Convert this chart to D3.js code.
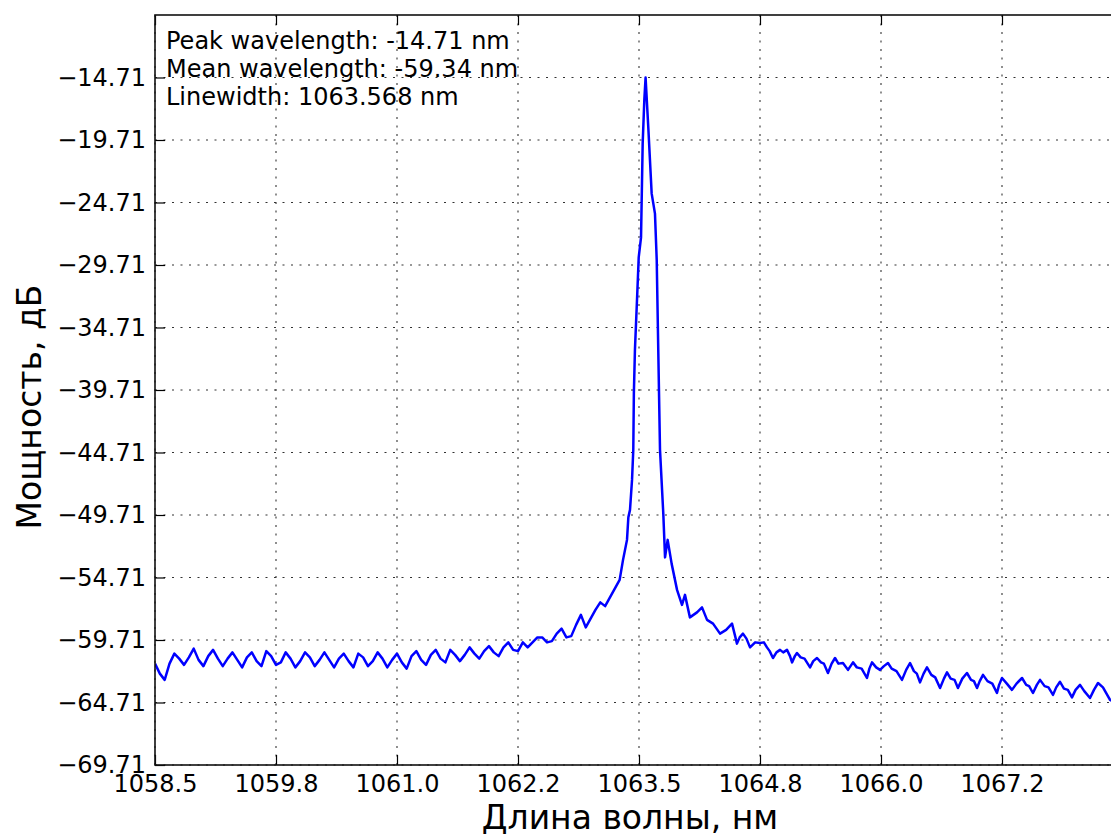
<!DOCTYPE html>
<html>
<head>
<meta charset="utf-8">
<script src="https://cdn.jsdelivr.net/npm/d3@7"></script>
<style>
  body { margin: 0; background: #fff; }
  svg { display: block; }
  text { font-family: "DejaVu Sans", sans-serif; }
</style>
</head>
<body>
<svg id="chart"></svg>
<script>
// spectrum (nm, dB)
const wavelength = [
  1058.50, 1058.55, 1058.60, 1058.65, 1058.70, 1058.75, 1058.80, 1058.85, 1058.90, 1058.95,
  1059.00, 1059.05, 1059.10, 1059.15, 1059.20, 1059.25, 1059.30, 1059.35, 1059.40, 1059.45,
  1059.50, 1059.55, 1059.60, 1059.65, 1059.70, 1059.75, 1059.80, 1059.85, 1059.90, 1059.95,
  1060.00, 1060.05, 1060.10, 1060.15, 1060.20, 1060.25, 1060.30, 1060.35, 1060.40, 1060.45,
  1060.50, 1060.55, 1060.60, 1060.65, 1060.70, 1060.75, 1060.80, 1060.85, 1060.90, 1060.95,
  1061.00, 1061.05, 1061.10, 1061.15, 1061.20, 1061.25, 1061.30, 1061.35, 1061.40, 1061.45,
  1061.50, 1061.55, 1061.60, 1061.65, 1061.70, 1061.75, 1061.80, 1061.85, 1061.90, 1061.95,
  1062.00, 1062.05, 1062.10, 1062.15, 1062.20, 1062.25, 1062.30, 1062.35, 1062.40, 1062.45,
  1062.50, 1062.55, 1062.60, 1062.65, 1062.70, 1062.75, 1062.80, 1062.85, 1062.90, 1062.95,
  1063.00, 1063.05, 1063.10, 1063.15, 1063.20, 1063.25,
  1063.300, 1063.335, 1063.376, 1063.390, 1063.407, 1063.428, 1063.441, 1063.447, 1063.458, 1063.482,
  1063.497, 1063.521, 1063.538, 1063.555, 1063.568, 1063.596, 1063.631, 1063.665, 1063.683, 1063.699,
  1063.717, 1063.751, 1063.769, 1063.796, 1063.837, 1063.893, 1063.944, 1063.975, 1064.026, 1064.099,
  1064.151, 1064.203, 1064.265,
  1064.337, 1064.40, 1064.461, 1064.49, 1064.512, 1064.54, 1064.574, 1064.61, 1064.647, 1064.70,
  1064.750, 1064.79, 1064.822, 1064.85, 1064.884, 1064.92, 1064.957, 1064.99, 1065.029, 1065.06,
  1065.081, 1065.11, 1065.132, 1065.17, 1065.21, 1065.267, 1065.30, 1065.339, 1065.38, 1065.41,
  1065.452, 1065.49, 1065.525, 1065.56, 1065.607, 1065.659, 1065.711, 1065.75, 1065.80, 1065.855,
  1065.88, 1065.907, 1065.95, 1065.990, 1066.03, 1066.072, 1066.11, 1066.16, 1066.217, 1066.26,
  1066.300, 1066.34, 1066.37, 1066.403, 1066.44, 1066.475, 1066.52, 1066.56, 1066.610, 1066.65,
  1066.682, 1066.72, 1066.76, 1066.795, 1066.84, 1066.888, 1066.93, 1066.96, 1066.992, 1067.02,
  1067.054, 1067.10, 1067.15, 1067.198, 1067.22, 1067.250, 1067.30, 1067.353, 1067.40, 1067.457,
  1067.50, 1067.53, 1067.570, 1067.61, 1067.643, 1067.69, 1067.73, 1067.777, 1067.81, 1067.849,
  1067.89, 1067.93, 1067.973, 1068.01, 1068.056, 1068.10, 1068.159, 1068.20, 1068.242, 1068.293,
  1068.366, 1068.420
];
const power = [
  -61.6, -62.4, -62.9, -61.6, -60.8, -61.2, -61.7, -61.1, -60.4, -61.3,
  -61.8, -61.0, -60.5, -61.2, -61.8, -61.2, -60.7, -61.3, -61.9, -61.1,
  -60.7, -61.4, -61.8, -60.6, -61.0, -61.7, -61.5, -60.7, -61.2, -61.9,
  -61.4, -60.7, -61.1, -61.8, -61.3, -60.7, -61.3, -61.9, -61.2, -60.8,
  -61.4, -61.9, -60.8, -61.1, -61.8, -61.4, -60.7, -61.2, -61.9, -61.3,
  -60.8, -61.5, -62.0, -61.0, -60.6, -61.3, -61.7, -60.9, -60.5, -61.2,
  -61.5, -60.5, -60.9, -61.4, -60.9, -60.3, -60.8, -61.2, -60.6, -60.2,
  -60.7, -61.0, -60.3, -59.9, -60.5, -60.6, -59.9, -60.3, -59.9, -59.5,
  -59.5, -59.9, -59.8, -59.2, -58.8, -59.5, -59.4, -58.5, -57.7, -58.7,
  -58.0, -57.3, -56.7, -57.0, -56.3, -55.6,
  -54.9, -53.3, -51.7, -49.9, -49.3, -46.9, -44.5, -40.0, -36.5, -32.0,
  -29.1, -27.5, -20.0, -16.5, -14.71, -18.7, -24.0, -25.6, -29.3, -36.5,
  -44.5, -49.6, -53.1, -51.7, -53.6, -55.7, -56.9, -56.1, -57.9, -57.5,
  -57.1, -58.1, -58.4,
  -59.2, -58.9, -58.4, -59.3, -60.0, -59.5, -59.2, -59.6, -60.3, -59.9,
  -59.95, -59.9, -60.3, -60.6, -61.15, -60.7, -60.5, -60.7, -60.5, -61.0,
  -61.5, -61.0, -60.75, -61.1, -61.2, -61.9, -61.4, -61.15, -61.5, -61.6,
  -62.35, -61.6, -61.15, -61.6, -61.55, -62.1, -61.5, -61.9, -62.0, -62.75,
  -62.0, -61.5, -61.9, -62.1, -61.8, -61.55, -62.0, -62.2, -62.9, -62.1,
  -61.55, -62.2, -62.4, -63.1, -62.4, -61.9, -62.5, -62.7, -63.55, -62.8,
  -62.3, -62.8, -62.9, -63.55, -62.8, -62.35, -62.9, -63.0, -63.55, -63.0,
  -62.5, -63.0, -63.2, -63.95, -63.3, -62.75, -63.2, -63.7, -63.2, -62.75,
  -63.3, -63.4, -63.95, -63.3, -62.9, -63.4, -63.5, -64.1, -63.5, -63.05,
  -63.6, -63.7, -64.3, -63.7, -63.3, -63.8, -64.35, -63.7, -63.15, -63.5,
  -64.5, -64.7
];

const xTicks = [1058.5, 1059.75, 1061.0, 1062.25, 1063.5, 1064.75, 1066.0, 1067.25];
const xTickLabels = ["1058.5", "1059.8", "1061.0", "1062.2", "1063.5", "1064.8", "1066.0", "1067.2"];
const yTicks = [-69.71, -64.71, -59.71, -54.71, -49.71, -44.71, -39.71, -34.71, -29.71, -24.71, -19.71, -14.71];
const infoLines = ["Peak wavelength: -14.71 nm", "Mean wavelength: -59.34 nm", "Linewidth: 1063.568 nm"];

const width = 1111, height = 834;
const marginLeft = 155, marginTop = 15, plotW = 968, plotH = 750;
const tickLen = 10;

const svg = d3.select("#chart")
    .attr("width", width)
    .attr("height", height)
    .attr("viewBox", [0, 0, width, height]);

svg.append("rect").attr("width", width).attr("height", height).attr("fill", "#fff");

const x = d3.scaleLinear().domain([1058.5, 1068.5]).range([marginLeft, marginLeft + plotW]);
const y = d3.scaleLinear().domain([-69.71, -9.71]).range([marginTop + plotH, marginTop]);

svg.append("defs").append("clipPath").attr("id", "plot-clip")
  .append("rect")
    .attr("x", marginLeft).attr("y", marginTop)
    .attr("width", plotW).attr("height", plotH);

// dotted grid
const grid = svg.append("g")
    .attr("stroke", "#333")
    .attr("stroke-width", 1.1)
    .attr("stroke-dasharray", "2,6.5");
grid.selectAll(".gx").data(xTicks).join("line")
    .attr("x1", d => x(d)).attr("x2", d => x(d))
    .attr("y1", marginTop + plotH).attr("y2", marginTop);
grid.selectAll(".gy").data(yTicks).join("line")
    .attr("y1", d => y(d)).attr("y2", d => y(d))
    .attr("x1", marginLeft).attr("x2", marginLeft + plotW);

// spectrum
const line = d3.line()
    .x(i => x(wavelength[i]))
    .y(i => y(power[i]));

svg.append("path")
    .attr("clip-path", "url(#plot-clip)")
    .attr("fill", "none")
    .attr("stroke", "#0000ff")
    .attr("stroke-width", 2.5)
    .attr("stroke-linejoin", "round")
    .attr("d", line(d3.range(wavelength.length)));

// axes with inward ticks
const fmtY = d => d3.format(".2f")(d).replace("-", "\u2212");

svg.append("g")
    .attr("transform", `translate(0,${marginTop + plotH})`)
    .call(d3.axisBottom(x).tickValues(xTicks)
      .tickFormat((d, i) => xTickLabels[i])
      .tickSizeInner(-tickLen).tickSizeOuter(0).tickPadding(10))
    .call(g => g.select(".domain").remove())
    .call(g => g.selectAll("text").attr("font-size", 24).attr("font-family", "DejaVu Sans").attr("fill", "#000"));

svg.append("g")
    .attr("transform", `translate(${marginLeft},0)`)
    .call(d3.axisLeft(y).tickValues(yTicks).tickFormat(fmtY)
      .tickSizeInner(-tickLen).tickSizeOuter(0).tickPadding(9))
    .call(g => g.select(".domain").remove())
    .call(g => g.selectAll("text").attr("font-size", 24).attr("font-family", "DejaVu Sans").attr("fill", "#000"));

svg.append("g")
    .attr("transform", `translate(0,${marginTop})`)
    .call(d3.axisTop(x).tickValues(xTicks).tickFormat("")
      .tickSizeInner(-tickLen).tickSizeOuter(0))
    .call(g => g.select(".domain").remove());

svg.append("g")
    .attr("transform", `translate(${marginLeft + plotW},0)`)
    .call(d3.axisRight(y).tickValues(yTicks).tickFormat("")
      .tickSizeInner(-tickLen).tickSizeOuter(0))
    .call(g => g.select(".domain").remove());

svg.selectAll(".tick line").attr("stroke", "#000").attr("stroke-width", 1.2);

// frame
svg.append("rect")
    .attr("x", marginLeft).attr("y", marginTop)
    .attr("width", plotW).attr("height", plotH)
    .attr("fill", "none")
    .attr("stroke", "#111")
    .attr("stroke-width", 1.6);

// info text
svg.append("g").selectAll("text").data(infoLines).join("text")
    .attr("x", 166)
    .attr("y", (d, i) => 49 + i * 28)
    .attr("font-size", 24)
    .attr("fill", "#000")
    .text(d => d);

// axis titles
svg.append("text")
    .attr("x", 630).attr("y", 829)
    .attr("text-anchor", "middle")
    .attr("font-size", 33)
    .text("Длина волны, нм");

svg.append("text")
    .attr("transform", "translate(41,407) rotate(-90)")
    .attr("text-anchor", "middle")
    .attr("font-size", 33)
    .text("Мощность, дБ");
</script>
</body>
</html>
